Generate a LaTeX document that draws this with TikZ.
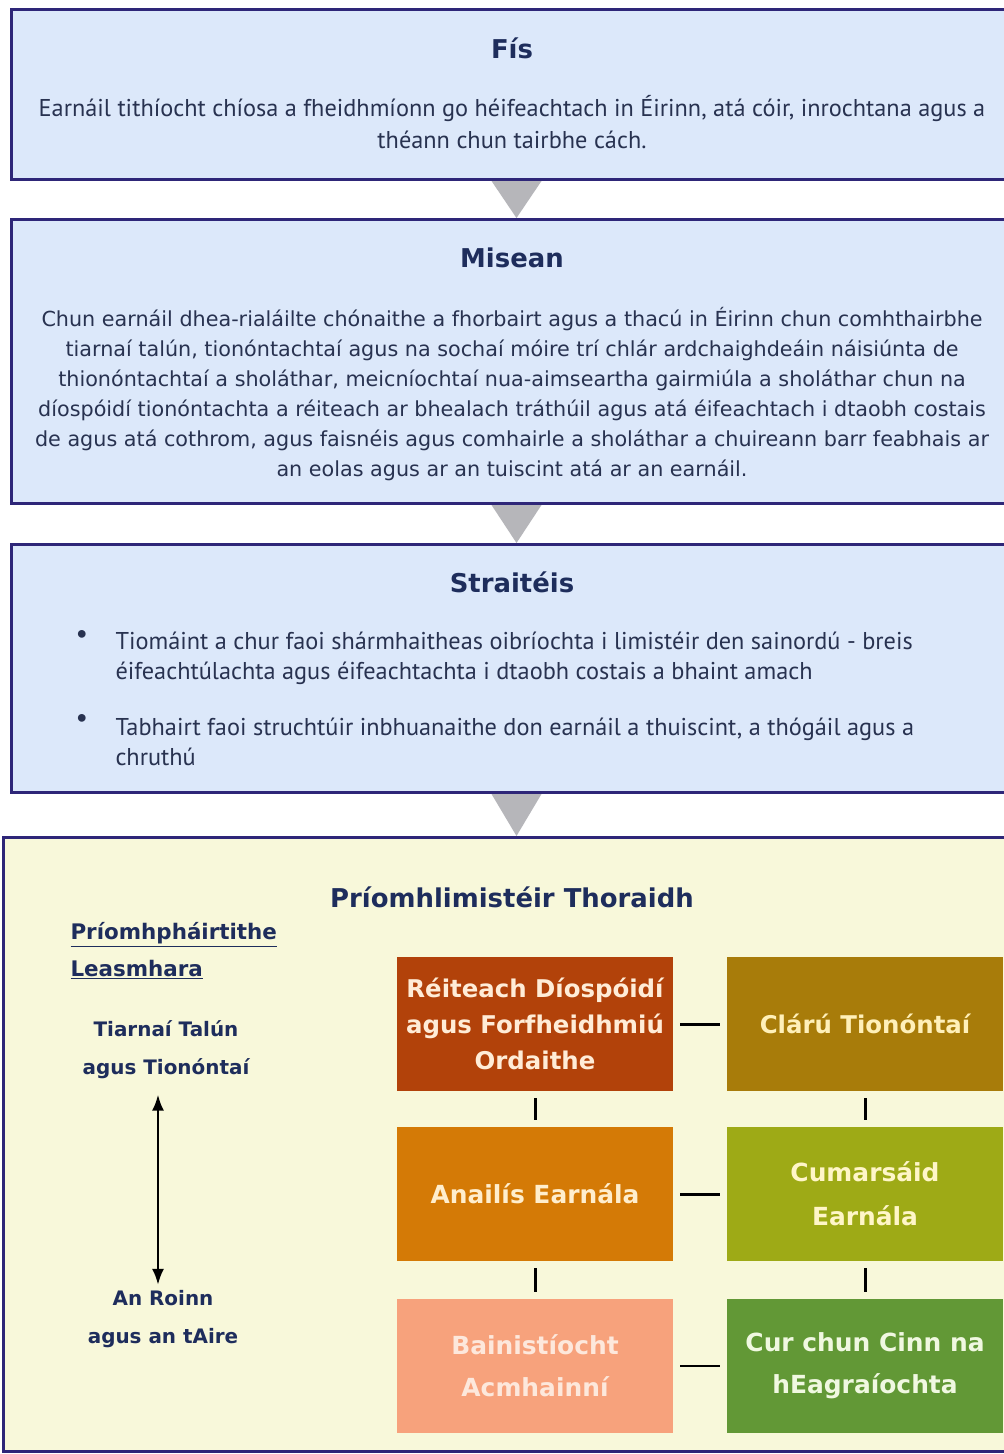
\documentclass[tikz,border=0pt]{standalone}
\usepackage{fontspec}
\setmainfont{DejaVu Sans}
\newfontfamily\narrowfont{PT Sans}
\usetikzlibrary{arrows,arrows.meta,positioning}

\definecolor{frameblue}{RGB}{46,38,120}
\definecolor{paleblue}{RGB}{220,232,250}
\definecolor{cream}{RGB}{248,248,218}
\definecolor{navytext}{RGB}{30,45,92}
\definecolor{bodytext}{RGB}{40,50,80}
\definecolor{rust}{RGB}{178,66,10}
\definecolor{ochre}{RGB}{168,124,10}
\definecolor{amber}{RGB}{212,122,6}
\definecolor{olive}{RGB}{158,170,22}
\definecolor{salmon}{RGB}{247,162,124}
\definecolor{leaf}{RGB}{98,152,54}
\definecolor{wedge}{RGB}{182,182,186}

\tikzset{
  panel/.style={draw=frameblue,line width=3bp,fill=paleblue,minimum width=1010bp,anchor=north west,inner sep=0},
  heading/.style={text=navytext,font=\fontsize{26}{30}\selectfont\bfseries},
  body/.style={text=bodytext,align=center},
  area/.style={minimum width=276bp,minimum height=134bp,inner sep=0,align=center,font=\fontsize{24.5}{36}\selectfont\bfseries},
  link/.style={line width=3bp,shorten <=7bp,shorten >=7bp},
}

\begin{document}
\begin{tikzpicture}

\useasboundingbox[fill=white] (0bp,0bp) rectangle (1004bp,-1454bp);

% the three blue panels and the cream one
\node (fis) at (10bp,-8bp)[panel,minimum height=170bp] {};
\node (misean) at (10bp,-218bp)[panel,minimum height=284bp] {};
\node (straiteis) at (10bp,-543bp)[panel,minimum height=248bp] {};
\node (torthai) at (2bp,-836bp)[panel,fill=cream,minimum width=1026bp,minimum height=614bp] {};

\fill[wedge] ([xshift=-25bp]fis.south) -- ([xshift=25bp]fis.south) -- (misean.north) -- cycle;
\fill[wedge] ([xshift=-25bp]misean.south) -- ([xshift=25bp]misean.south) -- (straiteis.north) -- cycle;
\fill[wedge] ([xshift=-25bp]straiteis.south) -- ([xshift=25bp]straiteis.south) -- (torthai.north) -- cycle;

% Fis
\node (fishead) at (512bp,-48bp)[heading] {Fís};
\node (fisbody) at (512bp,-122bp)[body,font=\narrowfont\fontsize{24.4}{32}\selectfont] {Earnáil tithíocht chíosa a fheidhmíonn go héifeachtach in Éirinn, atá cóir, inrochtana agus a\\théann chun tairbhe cách.};

% Misean
\node (miseanhead) at (512bp,-258bp)[heading] {Misean};
\node (miseanbody) at (512bp,-394bp)[body,font=\fontsize{20.8}{30}\selectfont] {Chun earnáil dhea-rialáilte chónaithe a fhorbairt agus a thacú in Éirinn chun comhthairbhe\\
tiarnaí talún, tionóntachtaí agus na sochaí móire trí chlár ardchaighdeáin náisiúnta de\\
thionóntachtaí a sholáthar, meicníochtaí nua-aimseartha gairmiúla a sholáthar chun na\\
díospóidí tionóntachta a réiteach ar bhealach tráthúil agus atá éifeachtach i dtaobh costais\\
de agus atá cothrom, agus faisnéis agus comhairle a sholáthar a chuireann barr feabhais ar\\
an eolas agus ar an tuiscint atá ar an earnáil.};

% Straiteis
\node (straiteishead) at (512bp,-582bp)[heading] {Straitéis};
\node (dot1) at (82bp,-636bp)[text=bodytext,font=\fontsize{22}{22}\selectfont\bfseries] {•};
\node (dot2) at (82bp,-720bp)[text=bodytext,font=\fontsize{22}{22}\selectfont\bfseries] {•};
\node (item1) at (112bp,-658bp)[anchor=west,body,align=left,font=\narrowfont\fontsize{24.4}{30}\selectfont] {Tiomáint a chur faoi shármhaitheas oibríochta i limistéir den sainordú - breis\\éifeachtúlachta agus éifeachtachta i dtaobh costais a bhaint amach};
\node (item2) at (112bp,-742bp)[anchor=west,body,align=left,font=\narrowfont\fontsize{24.4}{30}\selectfont] {Tabhairt faoi struchtúir inbhuanaithe don earnáil a thuiscint, a thógáil agus a\\chruthú};

% Priomhlimisteir Thoraidh
\node (torthaihead) at (512bp,-897bp)[heading] {Príomhlimistéir Thoraidh};
\node (pairtithe) at (67bp,-951bp)[anchor=west,text=navytext,align=left,font=\fontsize{21.5}{37}\selectfont\bfseries] {\underline{Príomhpháirtithe}\\\underline{Leasmhara}};
\node (tiarnai) at (166bp,-1050bp)[text=navytext,align=center,font=\fontsize{20}{38}\selectfont\bfseries] {Tiarnaí Talún\\agus Tionóntaí};
\node (roinn) at (163bp,-1319bp)[text=navytext,align=center,font=\fontsize{20}{38}\selectfont\bfseries] {An Roinn\\agus an tAire};
\draw [{Latex[length=16bp,width=12bp]}-{Latex[length=16bp,width=12bp]},line width=2.5bp,shorten <=12bp,shorten >=2bp] ([xshift=-8bp]tiarnai.south) -- ([xshift=-5bp]roinn.north);

\node (reiteach) at (535bp,-1024bp)[area,fill=rust,text={rgb,255:red,255;green,236;blue,215}] {Réiteach Díospóidí\\agus Forfheidhmiú\\Ordaithe};
\node (claru) at (865bp,-1024bp)[area,fill=ochre,text={rgb,255:red,255;green,240;blue,185}] {Clárú Tionóntaí};
\node (anailis) at (535bp,-1194bp)[area,fill=amber,text={rgb,255:red,255;green,238;blue,205},font=\fontsize{25}{44}\selectfont\bfseries] {Anailís Earnála};
\node (cumarsaid) at (865bp,-1194bp)[area,fill=olive,text={rgb,255:red,255;green,246;blue,200},font=\fontsize{25}{44}\selectfont\bfseries] {Cumarsáid\\Earnála};
\node (bainistiocht) at (535bp,-1366bp)[area,fill=salmon,text={rgb,255:red,253;green,232;blue,220},font=\fontsize{25}{42}\selectfont\bfseries] {Bainistíocht\\Acmhainní};
\node (curchun) at (865bp,-1366bp)[area,fill=leaf,text={rgb,255:red,240;green,248;blue,225},font=\fontsize{25}{42}\selectfont\bfseries] {Cur chun Cinn na\\hEagraíochta};

\draw [link] (reiteach) -- (claru);
\draw [link] (anailis) -- (cumarsaid);
\draw [link,line width=1.5bp] (bainistiocht) -- (curchun);
\draw [link] (reiteach) -- (anailis);
\draw [link] (anailis) -- (bainistiocht);
\draw [link] (claru) -- (cumarsaid);
\draw [link] (cumarsaid) -- (curchun);

\end{tikzpicture}
\end{document}
